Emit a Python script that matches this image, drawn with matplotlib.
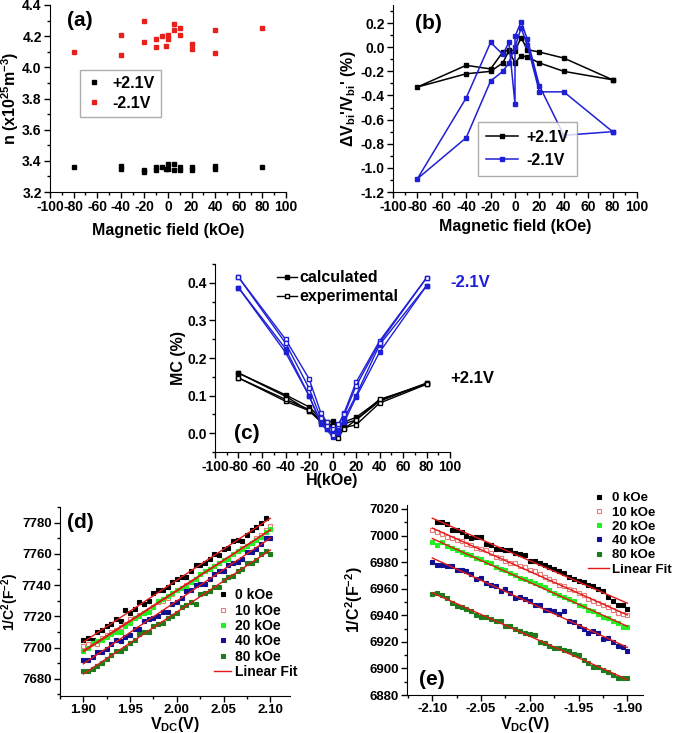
import numpy as np
import matplotlib
matplotlib.use('Agg')
import matplotlib.pyplot as plt
from matplotlib.ticker import MultipleLocator, FormatStrFormatter

plt.rcParams['font.family'] = ['Liberation Sans', 'DejaVu Sans']
plt.rcParams['font.weight'] = 'bold'
plt.rcParams['axes.unicode_minus'] = False
plt.rcParams['mathtext.fontset'] = 'custom'
plt.rcParams['mathtext.rm'] = 'Liberation Sans:bold'
plt.rcParams['mathtext.bf'] = 'Liberation Sans:bold'
plt.rcParams['mathtext.it'] = 'Liberation Sans:bold'
plt.rcParams['mathtext.default'] = 'bf'

# ---------------------------------------------------------------
# (a) carrier density vs field
a_field = [-80, -40, -40, -20, -20, -10, -10, -5, -2, 0, 0, 5, 5, 10, 10, 20, 20, 40, 40, 80]
a_pos = [3.36, 3.37, 3.35, 3.34, 3.33, 3.36, 3.34, 3.36, 3.35, 3.38, 3.35, 3.38, 3.34, 3.36, 3.34,
         3.36, 3.34, 3.37, 3.35, 3.36]
a_neg = [4.10, 4.21, 4.08, 4.30, 4.16, 4.18, 4.13, 4.20, 4.14, 4.21, 4.18, 4.28, 4.24, 4.25, 4.21,
         4.15, 4.12, 4.24, 4.09, 4.25]

# (b) relative change of built-in voltage, field sweep 80 -> -80 -> 80
b_field = [80, 40, 20, 10, 5, 0, -5, -10, -20, -40, -80, -40, -20, -10, -5, 0, 5, 10, 20, 40, 80]
b_pos = [-0.27, -0.09, -0.04, -0.02, 0.08, -0.03, -0.02, -0.04, -0.18, -0.15, -0.33,
         -0.22, -0.20, -0.13, -0.03, -0.13, -0.07, -0.08, -0.13, -0.20, -0.27]
b_field_neg = [80, 40, 20, 10, 5, 0, 0, -5, -10, -20, -40, -80, -40, -20, -10, -5, 0, 5, 10, 20, 40, 80]
b_neg = [-0.70, -0.73, -0.32, 0.07, 0.21, 0.09, -0.47, 0.04, -0.06, 0.04, -0.42, -1.09,
         -0.75, -0.28, -0.20, -0.13, 0.0, 0.16, 0.02, -0.37, -0.37, -0.70]

# (c) magnetocapacitance, two sweep branches each
c_field = [-80, -40, -20, -10, -5, 0, 5, 10, 20, 40, 80]
c_neg_calc = [[0.387, 0.225, 0.100, 0.030, 0.010, -0.010, 0.000, 0.040, 0.100, 0.235, 0.392],
              [0.387, 0.215, 0.100, 0.025, 0.010, 0.000, 0.010, 0.030, 0.095, 0.215, 0.392]]
c_neg_exp = [[0.415, 0.250, 0.145, 0.055, 0.030, 0.010, 0.020, 0.055, 0.135, 0.245, 0.413],
             [0.415, 0.240, 0.120, 0.040, 0.020, -0.005, 0.025, 0.050, 0.125, 0.240, 0.413]]
c_pos_calc = [[0.160, 0.102, 0.070, 0.040, 0.030, 0.032, 0.020, 0.030, 0.042, 0.088, 0.133],
              [0.160, 0.098, 0.060, 0.035, 0.025, 0.020, 0.015, 0.025, 0.035, 0.085, 0.133]]
c_pos_exp = [[0.147, 0.085, 0.060, 0.030, 0.020, 0.015, -0.013, 0.015, 0.022, 0.080, 0.130],
             [0.147, 0.090, 0.063, 0.035, 0.025, 0.020, 0.005, 0.012, 0.035, 0.090, 0.130]]

# (d) Mott-Schottky, +V
d_v = np.round(np.arange(1.90, 2.1001, 0.005), 3)
d_labels = ['0 kOe', '10 kOe', '20 kOe', '40 kOe', '80 kOe']
d_data = [
    [7705, 7706, 7705, 7710, 7711, 7714, 7715, 7718, 7717, 7724, 7722, 7725, 7729, 7728, 7730, 7735,
     7737, 7737, 7739, 7742, 7744, 7745, 7745, 7749, 7753, 7753, 7754, 7757, 7760, 7759, 7763, 7764,
     7768, 7769, 7768, 7772, 7775, 7777, 7780, 7783],
    [7701, 7702, 7703, 7702, 7706, 7708, 7710, 7711, 7713, 7715, 7718, 7719, 7721, 7722, 7724, 7726,
     7729, 7730, 7732, 7734, 7737, 7738, 7740, 7742, 7744, 7747, 7749, 7750, 7752, 7754, 7756, 7757,
     7760, 7762, 7764, 7765, 7767, 7770, 7772, 7775, 7778],
    [7698, 7700, 7703, 7704, 7705, 7707, 7709, 7710, 7710, 7714, 7716, 7719, 7720, 7722, 7723, 7726,
     7730, 7731, 7733, 7735, 7737, 7738, 7739, 7742, 7744, 7747, 7749, 7750, 7752, 7754, 7756, 7757,
     7760, 7762, 7763, 7765, 7767, 7769, 7771, 7774, 7776],
    [7692, 7692, 7694, 7697, 7697, 7699, 7702, 7705, 7704, 7707, 7708, 7712, 7712, 7717, 7718, 7719,
     7720, 7723, 7723, 7728, 7729, 7732, 7736, 7737, 7740, 7741, 7741, 7744, 7747, 7749, 7749, 7753,
     7754, 7755, 7757, 7761, 7761, 7763, 7766, 7770, 7770],
    [7685, 7685, 7686, 7688, 7690, 7693, 7695, 7698, 7698, 7700, 7703, 7705, 7709, 7710, 7710, 7714,
     7715, 7716, 7719, 7720, 7722, 7726, 7727, 7729, 7728, 7734, 7735, 7736, 7739, 7739, 7743, 7745,
     7746, 7749, 7750, 7754, 7754, 7756, 7760, 7762, 7760],
]

# (e) Mott-Schottky, -V
e_v = np.round(np.arange(-2.10, -1.8999, 0.005), 3)
e_data = [
    [7010, 7010, 7009, 7004, 7004, 7003, 7000, 6998, 6999, 6999, 6994, 6993, 6990, 6990, 6989, 6989,
     6987, 6986, 6985, 6981, 6981, 6979, 6978, 6976, 6975, 6973, 6972, 6969, 6967, 6966, 6965, 6963,
     6962, 6960, 6958, 6954, 6951, 6948, 6948, 6945],
    [7004, 7003, 7001, 6999, 6998, 6997, 6996, 6994, 6993, 6991, 6990, 6989, 6987, 6984, 6983, 6981,
     6979, 6979, 6977, 6976, 6974, 6973, 6971, 6969, 6967, 6966, 6963, 6962, 6960, 6959, 6957, 6955,
     6952, 6951, 6949, 6948, 6946, 6944, 6942, 6941, 6940],
    [6995, 6993, 6995, 6992, 6991, 6989, 6988, 6986, 6985, 6983, 6982, 6980, 6979, 6976, 6975, 6974,
     6972, 6970, 6968, 6967, 6966, 6964, 6963, 6961, 6959, 6957, 6955, 6954, 6952, 6951, 6948, 6947,
     6944, 6943, 6941, 6939, 6938, 6936, 6934, 6931, 6931],
    [6980, 6978, 6978, 6977, 6977, 6974, 6974, 6973, 6971, 6967, 6968, 6964, 6963, 6962, 6958, 6960,
     6957, 6953, 6954, 6952, 6951, 6948, 6948, 6944, 6944, 6943, 6941, 6943, 6936, 6935, 6932, 6930,
     6927, 6928, 6927, 6922, 6923, 6920, 6917, 6916, 6913],
    [6956, 6957, 6955, 6953, 6949, 6947, 6946, 6945, 6943, 6940, 6939, 6939, 6937, 6936, 6936, 6932,
     6932, 6930, 6928, 6927, 6926, 6925, 6920, 6919, 6917, 6915, 6915, 6914, 6913, 6911, 6910, 6906,
     6904, 6901, 6901, 6899, 6897, 6895, 6893, 6893, 6893],
]

ms_colors = ['black', '#e87a7a', '#22ee22', '#101090', '#1c7c1c']
ms_faces = ['black', 'none', '#22ee22', '#101090', '#1c7c1c']
blue = '#1f1fd6'
TF = 10    # tick font
LF = 11.5  # label font


def style(ax, tf=TF):
    ax.spines['top'].set_visible(False)
    ax.spines['right'].set_visible(False)
    ax.tick_params(which='both', direction='out', labelsize=tf, width=1, pad=2)
    ax.tick_params(which='major', length=4)
    ax.tick_params(which='minor', length=2)
    for t in ax.get_xticklabels() + ax.get_yticklabels():
        t.set_fontweight('bold')


W, H = 675, 733
fig = plt.figure(figsize=(6.75, 7.33), dpi=100)


def box(l, r, t, b):
    return [l / W, 1 - b / H, (r - l) / W, (b - t) / H]


# ---------------- (a)
ax = fig.add_axes(box(50, 286, 5, 192))
ax.plot(a_field, a_pos, 's', color='black', ms=3.5, label='+2.1V')
ax.plot(a_field, a_neg, 's', color='#e8201c', ms=3.5, label='-2.1V')
ax.set_xlim(-100, 100)
ax.set_ylim(3.2, 4.4)
ax.xaxis.set_major_locator(MultipleLocator(20))
ax.xaxis.set_minor_locator(MultipleLocator(10))
ax.yaxis.set_major_locator(MultipleLocator(0.2))
ax.yaxis.set_minor_locator(MultipleLocator(0.1))
style(ax)
ax.set_xlabel('Magnetic field (kOe)', fontsize=LF, fontweight='bold', labelpad=6)
ax.set_ylabel(r'n (x10$^{25}$m$^{-3}$)', fontsize=LF, fontweight='bold', labelpad=1)
ax.text(0.07, 0.97, '(a)', transform=ax.transAxes, fontsize=15, fontweight='bold', va='top')
leg = ax.legend(loc='upper left', bbox_to_anchor=(0.127, 0.655), borderaxespad=0, fontsize=11.5,
                handlelength=1.0, handletextpad=0.6, fancybox=False, edgecolor='#999999',
                labelspacing=0.3, borderpad=0.4)
leg.get_frame().set_linewidth(1.0)

# ---------------- (b)
ax = fig.add_axes(box(393, 637, 5, 192))
ax.plot(b_field, b_pos, '-s', color='black', ms=3, lw=1.1, label='+2.1V')
ax.plot(b_field_neg, b_neg, '-s', color=blue, ms=3, lw=1.1, label='-2.1V')
ax.set_xlim(-100, 100)
ax.set_ylim(-1.2, 0.35)
ax.xaxis.set_major_locator(MultipleLocator(20))
ax.xaxis.set_minor_locator(MultipleLocator(10))
ax.yaxis.set_major_locator(MultipleLocator(0.2))
ax.yaxis.set_minor_locator(MultipleLocator(0.1))
style(ax)
ax.set_xlabel('Magnetic field (kOe)', fontsize=LF, fontweight='bold', labelpad=3)
ax.set_ylabel(r"$\Delta$V$_{bi}$'/V$_{bi}$' (%)", fontsize=LF, fontweight='bold', labelpad=2)
ax.text(0.09, 0.95, '(b)', transform=ax.transAxes, fontsize=15, fontweight='bold', va='top')
leg = ax.legend(loc='upper left', bbox_to_anchor=(0.35, 0.375), borderaxespad=0, fontsize=11.5,
                handlelength=2.0, handletextpad=0.5, fancybox=False, edgecolor='#999999',
                labelspacing=0.5, borderpad=0.5)
leg.get_frame().set_linewidth(1.0)

# ---------------- (c)
ax = fig.add_axes(box(215, 450, 264, 452))
for br in c_pos_calc:
    ax.plot(c_field, br, '-s', color='black', ms=3.2, lw=1.0)
for br in c_pos_exp:
    ax.plot(c_field, br, '-s', color='black', mfc='white', ms=3.2, lw=1.0)
for br in c_neg_calc:
    ax.plot(c_field, br, '-s', color=blue, ms=3.2, lw=1.0)
for br in c_neg_exp:
    ax.plot(c_field, br, '-s', color=blue, mfc='white', ms=3.2, lw=1.0)
h1, = ax.plot([], [], '-s', color='black', ms=3.2, lw=1.0, label='calculated')
h2, = ax.plot([], [], '-s', color='black', mfc='white', ms=3.2, lw=1.0, label='experimental')
ax.set_xlim(-100, 100)
ax.set_ylim(-0.05, 0.45)
ax.xaxis.set_major_locator(MultipleLocator(20))
ax.xaxis.set_minor_locator(MultipleLocator(10))
ax.yaxis.set_major_locator(MultipleLocator(0.1))
ax.yaxis.set_minor_locator(MultipleLocator(0.05))
style(ax)
ax.set_xlabel('H(kOe)', fontsize=LF, fontweight='bold', labelpad=-1)
ax.set_ylabel('MC (%)', fontsize=LF, fontweight='bold', labelpad=1)
ax.text(-84, 0.0, '(c)', fontsize=15, fontweight='bold', va='center')
ax.text(1.0, 0.9, '-2.1V', transform=ax.transAxes, color=blue, fontsize=12, fontweight='bold',
        va='center')
ax.text(1.0, 0.39, '+2.1V', transform=ax.transAxes, color='black', fontsize=12, fontweight='bold',
        va='center')
ax.legend(handles=[h1, h2], loc='upper left', bbox_to_anchor=(0.235, 1.0), borderaxespad=0,
          frameon=False, fontsize=11.5, handlelength=1.3, handletextpad=0.1, labelspacing=0.25)

# ---------------- (d)
ax = fig.add_axes(box(60, 290, 507, 696))
for i, ys in enumerate(d_data):
    ax.plot(d_v[:len(ys)], ys, 's', mec=ms_colors[i], mfc=ms_faces[i], ms=3.5, mew=0.8,
            label=d_labels[i])
for i, ys in enumerate(d_data):
    xs = d_v[:len(ys)]
    k, c0 = np.polyfit(xs, ys, 1)
    xf = np.array([1.90, 2.10])
    ax.plot(xf, k * xf + c0, '-', color='#e21818', lw=1.0, label='Linear Fit' if i == 0 else None)
ax.set_xlim(1.875, 2.121)
ax.set_ylim(7669, 7790)
ax.xaxis.set_major_locator(MultipleLocator(0.05))
ax.xaxis.set_minor_locator(MultipleLocator(0.025))
ax.yaxis.set_major_locator(MultipleLocator(20))
ax.yaxis.set_minor_locator(MultipleLocator(10))
ax.xaxis.set_major_formatter(FormatStrFormatter('%.2f'))
style(ax, tf=9.5)
ax.set_xlabel(r'V$_{DC}$(V)', fontsize=LF, fontweight='bold', labelpad=-1)
ax.set_ylabel(r'1/C$^{2}$(F$^{-2}$)', fontsize=10, fontweight='bold', labelpad=0.5)
ax.text(0.03, 0.97, '(d)', transform=ax.transAxes, fontsize=15, fontweight='bold', va='top')
ax.legend(loc='upper left', bbox_to_anchor=(0.645, 0.6), borderaxespad=0, frameon=False,
          fontsize=10, handlelength=1.25, handletextpad=0.3, labelspacing=0.1)

# ---------------- (e)
ax = fig.add_axes(box(407, 643, 505, 695))
for i, ys in enumerate(e_data):
    xs = e_v[len(e_v) - len(ys):]
    ax.plot(xs, ys, 's', mec=ms_colors[i], mfc=ms_faces[i], ms=3.5, mew=0.8, label=d_labels[i])
for i, ys in enumerate(e_data):
    xs = e_v[len(e_v) - len(ys):]
    k, c0 = np.polyfit(xs, ys, 1)
    xf = np.array([-2.10, -1.90])
    ax.plot(xf, k * xf + c0, '-', color='#e21818', lw=1.0, label='Linear Fit' if i == 0 else None)
ax.set_xlim(-2.126, -1.884)
ax.set_ylim(6880, 7023)
ax.xaxis.set_major_locator(MultipleLocator(0.05))
ax.xaxis.set_minor_locator(MultipleLocator(0.025))
ax.yaxis.set_major_locator(MultipleLocator(20))
ax.yaxis.set_minor_locator(MultipleLocator(10))
ax.xaxis.set_major_formatter(FormatStrFormatter('%.2f'))
style(ax, tf=9.5)
ax.set_xlabel(r'V$_{DC}$(V)', fontsize=LF, fontweight='bold', labelpad=0)
ax.set_ylabel(r'1/C$^{2}$(F$^{-2}$)', fontsize=LF, fontweight='bold', labelpad=3)
ax.text(0.05, 0.03, '(e)', transform=ax.transAxes, fontsize=15, fontweight='bold', va='bottom')
ax.legend(loc='upper left', bbox_to_anchor=(0.745, 1.095), borderaxespad=0, frameon=False,
          fontsize=9.5, handlelength=1.6, handletextpad=0.2, labelspacing=0.15)

fig.savefig('out.png', dpi=100)
